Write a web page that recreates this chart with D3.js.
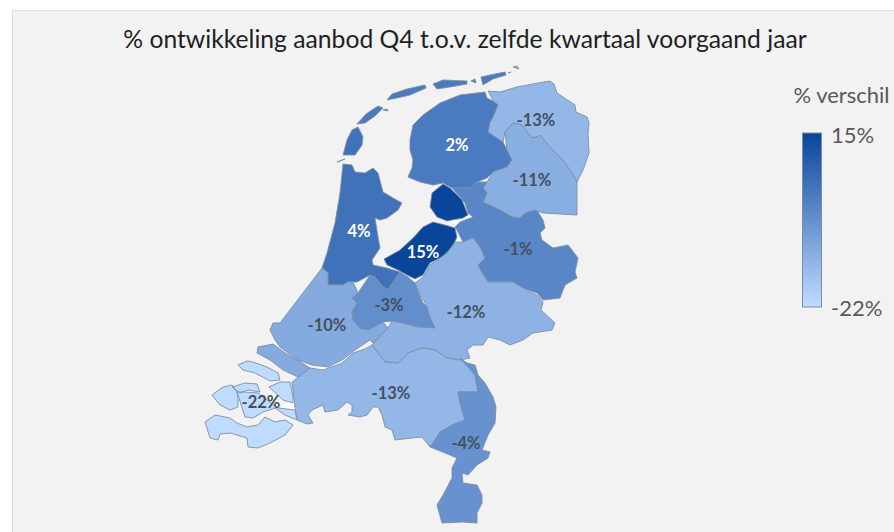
<!DOCTYPE html>
<html lang="nl">
<head>
<meta charset="utf-8">
<script src="https://cdn.jsdelivr.net/npm/d3@7"></script>
<style>
  html, body { margin: 0; padding: 0; background: #fff; }
  svg { display: block; }
  text { font-family: Lato, "Open Sans", sans-serif; }
</style>
</head>
<body>
<svg id="chart" width="894" height="532"></svg>
<script>
const titleText = "% ontwikkeling aanbod Q4 t.o.v. zelfde kwartaal voorgaand jaar";
const legendTitle = "% verschil";

// Development per province, in percent
const provinces = ["Groningen", "Friesland", "Drenthe", "Overijssel", "Flevoland", "Noord-Holland",
                   "Zuid-Holland", "Utrecht", "Gelderland", "Noord-Brabant", "Limburg", "Zeeland"];
const values = [-13, 2, -11, -1, 15, 4, -10, -3, -12, -13, -4, -22];
const legendDomain = [-22, 15];
const legendRampColors = ["#bfdbff", "#0a459c"];

// Province outlines in map units; each province is a list of rings
const outlines = {
  "Groningen": [
    [[488,91],[500,92],[517,87],[538,83],[550,81],[554,84],[557,93],[575,105],[576,112],[587,117],[589,123],[588,133],[589,153],[583,170],[577,182],[572,173],[563,160],[550,147],[540,135],[537,137],[532,138],[527,132],[522,125],[513,123],[505,132],[503,142],[495,137],[488,132],[490,122],[493,117],[498,105],[493,100],[487,95]],
    [[513,67],[517,66],[519,69],[515,72]],
    [[508,73],[511,72],[509,77]]
  ],
  "Friesland": [
    [[485,92],[487,98],[493,101],[498,105],[493,117],[490,122],[488,132],[495,137],[503,142],[507,150],[512,160],[507,167],[493,172],[487,178],[477,182],[470,188],[462,188],[452,188],[443,183],[433,185],[420,182],[408,177],[412,168],[413,160],[410,150],[410,140],[413,125],[423,115],[440,103],[460,95],[473,92]],
    [[357,124],[366,114],[378,106],[383,108],[375,116],[365,123],[358,125]],
    [[383,110],[387,109],[388,111],[385,112]],
    [[387,100],[392,94],[407,89],[425,85],[426,88],[410,95],[397,98],[389,102]],
    [[433,84],[443,80],[467,81],[467,84],[450,87],[437,89],[433,87]],
    [[471,81],[475,79],[476,83],[472,83]],
    [[481,77],[490,75],[505,72],[506,75],[493,79],[483,85],[481,82]]
  ],
  "Drenthe": [
    [[505,132],[513,123],[522,125],[527,132],[532,138],[537,137],[540,135],[550,147],[563,160],[572,173],[577,182],[577,215],[560,214],[543,213],[535,210],[525,213],[520,218],[512,217],[500,210],[483,202],[487,193],[483,188],[487,182],[493,172],[507,167],[512,160],[507,150],[503,142]]
  ],
  "Overijssel": [
    [[452,188],[462,188],[470,188],[477,182],[487,182],[483,188],[487,193],[483,202],[500,210],[512,217],[520,218],[525,213],[535,210],[538,212],[543,220],[545,228],[540,233],[542,240],[553,248],[568,245],[572,250],[578,258],[575,272],[577,278],[565,285],[560,298],[543,300],[537,293],[523,288],[513,282],[500,282],[488,282],[482,273],[478,265],[485,258],[480,247],[473,238],[463,242],[457,230],[455,227],[460,222],[473,217],[468,213],[465,203],[457,195]]
  ],
  "Flevoland": [
    [[443,184],[450,188],[462,200],[468,215],[463,218],[447,221],[437,217],[430,207],[432,193],[437,187]],
    [[423,227],[433,222],[445,225],[455,228],[457,237],[452,248],[442,257],[430,263],[423,275],[415,279],[407,275],[398,270],[387,265],[384,259],[400,250],[413,238],[418,232]]
  ],
  "Noord-Holland": [
    [[343,164],[352,165],[355,172],[365,173],[373,168],[378,173],[383,192],[393,198],[402,203],[398,210],[387,218],[380,220],[375,218],[378,237],[380,248],[372,260],[373,265],[387,268],[400,272],[393,282],[388,290],[383,287],[375,277],[370,275],[357,282],[348,282],[343,285],[328,285],[328,273],[322,268],[327,253],[335,223],[340,193],[345,170]],
    [[343,155],[347,140],[352,130],[358,127],[363,137],[362,145],[355,155],[345,158]],
    [[337,162],[345,159],[338,164]]
  ],
  "Zuid-Holland": [
    [[322,268],[328,273],[328,285],[343,285],[348,282],[353,282],[358,293],[352,298],[357,303],[352,312],[353,320],[360,328],[368,330],[383,322],[388,328],[373,343],[370,340],[355,350],[342,360],[328,367],[312,365],[298,360],[288,353],[280,347],[275,340],[270,330],[273,323],[280,323],[297,300]],
    [[257,353],[258,347],[273,344],[285,353],[302,363],[310,368],[308,373],[298,377],[283,370],[270,360],[258,357]]
  ],
  "Utrecht": [
    [[370,275],[375,277],[383,287],[388,290],[393,282],[400,272],[408,277],[415,283],[423,303],[427,307],[430,317],[435,328],[417,327],[403,323],[392,321],[383,322],[368,330],[360,328],[353,320],[352,312],[357,303],[352,298],[358,293],[353,282]]
  ],
  "Gelderland": [
    [[415,283],[423,277],[430,265],[447,253],[455,242],[463,242],[473,238],[480,247],[485,258],[478,265],[482,273],[488,282],[500,282],[513,282],[523,288],[537,295],[543,302],[541,310],[555,323],[552,330],[533,333],[523,340],[510,345],[500,340],[488,337],[483,345],[473,345],[467,350],[470,358],[460,360],[447,358],[435,350],[422,348],[408,353],[398,363],[385,362],[378,353],[372,345],[388,328],[392,321],[403,323],[417,327],[435,328],[430,317],[427,307],[423,303]]
  ],
  "Noord-Brabant": [
    [[292,382],[310,368],[323,370],[342,363],[353,353],[365,349],[372,345],[378,353],[385,362],[398,363],[408,353],[422,348],[435,350],[447,358],[460,360],[467,363],[475,375],[478,392],[458,392],[460,403],[465,420],[452,425],[440,432],[435,440],[430,447],[422,437],[412,438],[395,440],[392,430],[385,427],[382,415],[378,407],[373,407],[367,415],[360,417],[348,415],[352,412],[352,405],[347,402],[338,410],[325,412],[323,405],[312,410],[308,415],[313,423],[307,424],[297,420],[295,407],[295,393]]
  ],
  "Limburg": [
    [[460,358],[467,363],[475,365],[478,375],[485,383],[493,397],[496,407],[495,423],[488,435],[482,450],[490,452],[488,458],[477,465],[468,475],[462,473],[463,483],[477,485],[482,495],[482,503],[477,513],[477,523],[462,522],[442,523],[437,505],[443,495],[452,478],[452,468],[457,458],[445,453],[430,447],[435,440],[440,432],[452,425],[465,420],[460,403],[458,392],[478,392],[475,375],[467,363]]
  ],
  "Zeeland": [
    [[238,365],[247,361],[253,362],[267,367],[278,373],[280,380],[270,381],[255,373],[243,370],[238,372]],
    [[269,387],[280,382],[290,382],[293,397],[293,403],[283,400],[273,395]],
    [[212,395],[223,387],[232,385],[237,392],[238,397],[238,407],[230,410],[220,405],[213,400]],
    [[232,387],[245,383],[257,384],[260,392],[248,390],[240,393],[235,392]],
    [[237,392],[243,392],[258,393],[267,400],[278,408],[295,410],[297,420],[285,415],[275,408],[263,412],[253,418],[245,417],[238,408]],
    [[205,422],[215,415],[230,418],[237,423],[247,427],[258,425],[265,417],[275,422],[285,420],[293,425],[285,435],[270,443],[258,448],[248,447],[247,438],[230,433],[220,434],[218,440],[210,438],[204,430]]
  ]
};

// Label anchors in map units
const labelAnchors = {
  "Groningen": [536,120], "Friesland": [457,145], "Drenthe": [532,180], "Overijssel": [518,249],
  "Flevoland": [423,252], "Noord-Holland": [359,231], "Zuid-Holland": [327,325], "Utrecht": [389,305],
  "Gelderland": [466,312], "Noord-Brabant": [391,393], "Limburg": [466,443], "Zeeland": [261,402]
};

// Open water that shows white between the polders and the mainland
const waterRings = [
  [[455,228],[460,240],[447,256],[432,268],[424,280],[414,283],[395,274],[385,266],[398,270],[415,279],[423,275],[430,263],[442,257],[452,248],[457,237]],
  [[447,221],[463,218],[468,215],[473,217],[462,226],[447,224]],
  [[305,372],[323,372],[342,364],[344,360],[328,366],[312,364]],
  [[280,407],[295,398],[297,410],[288,410]]
];

const svg = d3.select("#chart");

const defs = svg.append("defs");
const color = d3.scaleLinear().domain(legendDomain).range(legendRampColors).interpolate(d3.interpolateRgb);

// Chart panel
svg.append("rect")
  .attr("x", 12.5).attr("y", 10.5).attr("width", 900).attr("height", 540)
  .attr("fill", "#f2f2f2").attr("stroke", "#dcdcdc");

svg.append("text")
  .attr("x", 465).attr("y", 48)
  .attr("text-anchor", "middle")
  .attr("font-size", 24.7).attr("fill", "#1f1f1f")
  .text(titleText);

// Map
const projection = d3.geoIdentity();
const path = d3.geoPath(projection);
const features = provinces.map((name, i) => ({
  type: "Feature",
  properties: { name, value: values[i] },
  geometry: { type: "MultiPolygon", coordinates: outlines[name].map(r => [r]) }
}));

svg.append("g").selectAll("path")
  .data(waterRings)
  .join("path")
  .attr("d", r => path({ type: "Polygon", coordinates: [r] }))
  .attr("fill", "#ffffff");

svg.append("g").selectAll("path")
  .data(features)
  .join("path")
  .attr("d", path)
  .attr("fill", d => color(d.properties.value))
  .attr("stroke", "#7d8ea5")
  .attr("stroke-width", 0.9)
  .attr("stroke-linejoin", "round");

svg.append("g").selectAll("text")
  .data(features)
  .join("text")
  .attr("x", d => projection(labelAnchors[d.properties.name])[0])
  .attr("y", d => projection(labelAnchors[d.properties.name])[1])
  .attr("dy", "0.36em")
  .attr("text-anchor", "middle")
  .attr("font-size", 16.5).attr("font-weight", 700)
  .attr("fill", d => d.properties.value > 0 ? "#ffffff" : "#44505f")
  .text(d => d.properties.value + "%");

// Colour legend
const legendScale = d3.scaleLinear().domain(legendDomain).range([307, 133]);
const gradient = defs.append("linearGradient")
  .attr("id", "ramp").attr("x1", 0).attr("y1", 1).attr("x2", 0).attr("y2", 0);
gradient.selectAll("stop")
  .data(legendDomain)
  .join("stop")
  .attr("offset", (d, i) => i)
  .attr("stop-color", d => color(d));

svg.append("text")
  .attr("x", 841.5).attr("y", 103)
  .attr("text-anchor", "middle")
  .attr("font-size", 22).attr("fill", "#595959")
  .text(legendTitle);

svg.append("rect")
  .attr("x", 802.5).attr("y", legendScale(legendDomain[1]))
  .attr("width", 19).attr("height", legendScale(legendDomain[0]) - legendScale(legendDomain[1]))
  .attr("fill", "url(#ramp)")
  .attr("stroke", "#7c8ca3");

svg.append("g").selectAll("text")
  .data(legendDomain)
  .join("text")
  .attr("x", 831)
  .attr("y", d => legendScale(d) + (d > 0 ? 2 : 1))
  .attr("dy", "0.36em")
  .attr("font-size", 22).attr("fill", "#595959")
  .text(d => d + "%");
</script>
</body>
</html>
